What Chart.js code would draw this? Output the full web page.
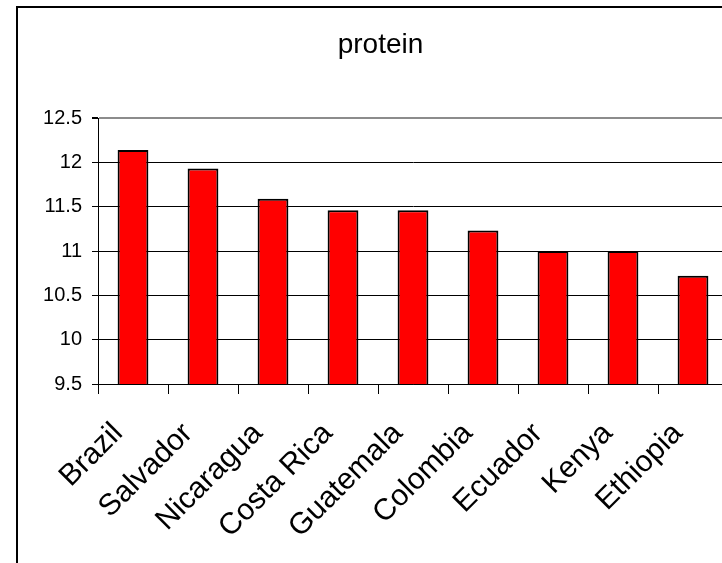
<!DOCTYPE html>
<html>
<head>
<meta charset="utf-8">
<title>protein</title>
<script src="https://cdn.jsdelivr.net/npm/chart.js@4.4.1/dist/chart.umd.min.js"></script>
<style>
    html, body {
        margin: 0;
        padding: 0;
        background: #fff;
        overflow: hidden;
        width: 722px;
        height: 563px;
    }
    #chart {
        display: block;
    }
</style>
</head>
<body>
<canvas id="chart" width="760" height="563"></canvas>
<script>
// Chart data
const chartTitle = 'protein';
const countries = ['Brazil', 'Salvador', 'Nicaragua', 'Costa Rica', 'Guatemala', 'Colombia', 'Ecuador', 'Kenya', 'Ethiopia'];
const proteinValues = [12.14, 11.93, 11.59, 11.46, 11.46, 11.23, 11.0, 11.0, 10.72];
const yTickValues = [9.5, 10, 10.5, 11, 11.5, 12, 12.5];

const FONT = '"Liberation Sans", Arial, sans-serif';

// Outer frame and title, drawn like the old spreadsheet chart
const framePlugin = {
    id: 'frame',
    beforeDraw(chart) {
        const ctx = chart.ctx;
        ctx.save();
        ctx.strokeStyle = '#000';
        ctx.lineWidth = 2;
        ctx.strokeRect(17, 7, chart.width + 20, chart.height + 20);
        ctx.restore();
    },
    afterDraw(chart) {
        const ctx = chart.ctx;
        ctx.save();
        ctx.fillStyle = '#000';
        ctx.font = '28px ' + FONT;
        ctx.textAlign = 'center';
        ctx.textBaseline = 'middle';
        ctx.fillText(chartTitle, 380.5, 45);
        ctx.restore();
    }
};

const ctx = document.getElementById('chart').getContext('2d');
new Chart(ctx, {
    type: 'bar',
    data: {
        labels: countries,
        datasets: [{
            label: chartTitle,
            data: proteinValues,
            backgroundColor: '#ff0000',
            borderColor: '#000',
            borderWidth: 2,
            borderSkipped: 'bottom',
            barPercentage: 0.44,
            categoryPercentage: 1
        }]
    },
    options: {
        responsive: false,
        animation: false,
        layout: {
            padding: { top: 118, right: 32, bottom: 0, left: 0 }
        },
        plugins: {
            legend: { display: false },
            title: { display: false },
            tooltip: { enabled: false }
        },
        scales: {
            x: {
                afterFit(scale) { scale.height = 179; },
                grid: {
                    drawOnChartArea: false,
                    drawTicks: true,
                    tickLength: 10,
                    tickColor: '#000',
                    offset: true
                },
                border: { color: '#000', width: 1 },
                ticks: {
                    autoSkip: false,
                    minRotation: 45,
                    maxRotation: 45,
                    padding: 22,
                    labelOffset: -15,
                    color: '#000',
                    font: { family: FONT, size: 30 }
                }
            },
            y: {
                min: yTickValues[0],
                max: yTickValues[yTickValues.length - 1],
                afterFit(scale) { scale.width = 98; },
                afterBuildTicks(scale) {
                    scale.ticks = yTickValues.map(v => ({ value: v }));
                },
                grid: {
                    color: c => c.tick && c.tick.value === 12.5 ? '#8c8c8c' : '#000',
                    lineWidth: c => c.tick && c.tick.value === 12.5 ? 2 : 1,
                    tickLength: 6,
                    tickColor: '#000'
                },
                border: { color: '#000', width: 1 },
                ticks: {
                    padding: 10,
                    color: '#000',
                    font: { family: FONT, size: 20 },
                    callback: value => String(value)
                }
            }
        }
    },
    plugins: [framePlugin]
});
</script>
</body>
</html>
